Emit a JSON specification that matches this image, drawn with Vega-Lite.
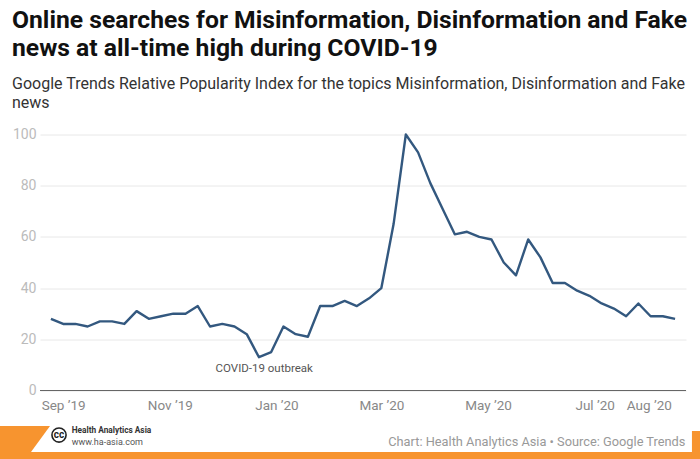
{
"$schema":"https://vega.github.io/schema/vega-lite/v6.json",
"width":646,"height":256,
"autosize":"none",
"padding":{"left":40,"top":134.5,"right":14,"bottom":68.5},
"background":"white",
"title":{"text":["Online searches for Misinformation, Disinformation and Fake","news at all-time high during COVID-19"],"subtitle":["Google Trends Relative Popularity Index for the topics Misinformation, Disinformation and Fake","news"],"anchor":"start","frame":"group","dx":-28,"offset":17,"font":"Roboto","fontSize":24.7,"fontWeight":"bold","color":"#111111","lineHeight":28,"subtitleFont":"Roboto","subtitleFontSize":16,"subtitleColor":"#333333","subtitleLineHeight":19,"subtitlePadding":15},
"config":{"view":{"stroke":null}},
"layer":[
{"data":{"name":"trend"},
"mark":{"type":"line","color":"#33587f","strokeWidth":2.4,"strokeJoin":"round","clip":false},
"encoding":{
"x":{"field":"week","type":"temporal","title":null,"scale":{"domain":["2019-08-18T18:00:00","2020-08-22T06:00:00"]},
"axis":{"values":["2019-09-01T00:00:00","2019-11-01T00:00:00","2020-01-01T00:00:00","2020-03-01T00:00:00","2020-05-01T00:00:00","2020-07-01T00:00:00","2020-08-01T00:00:00"],"labelExpr":"timeFormat(datum.value,'%b ’%y')","grid":false,"ticks":false,"domain":false,"labelFont":"Roboto","labelFontSize":13.5,"labelColor":"#888888","labelPadding":8}},
"y":{"field":"index","type":"quantitative","title":null,"scale":{"domain":[0,100]},
"axis":{"values":[0,20,40,60,80,100],"grid":true,"gridColor":"#e8e8e8","gridWidth":1,"ticks":false,"domain":false,"labelFont":"Roboto","labelFontSize":14,"labelColor":"#bbbbbb","labelPadding":4}}
}},
{"data":{"values":[{"v":0}]},"mark":{"type":"rule","color":"#666666","strokeWidth":1.2},"encoding":{"y":{"field":"v","type":"quantitative"}}},
{"data":{"values":[{"week":"2019-12-25T00:00:00","v":8.5,"label":"COVID-19 outbreak"}]},"mark":{"type":"text","font":"Roboto","fontSize":11.5,"color":"#555555","align":"center"},"encoding":{"x":{"field":"week","type":"temporal"},"y":{"field":"v","type":"quantitative"},"text":{"field":"label"}}},
{"data":{"values":[{"d":"2019-07-20T00:00:00","t":-13.87,"low":-24},{"d":"2019-08-13T14:30:00","t":-13.87,"low":-24},{"d":"2019-08-24T11:15:00","t":-13.87,"low":-13.87}]},
"mark":{"type":"area","color":"#f7942f","clip":false,"orient":"vertical"},
"encoding":{"x":{"field":"d","type":"temporal"},"y":{"field":"t","type":"quantitative"},"y2":{"field":"low"}}},
{"data":{"values":[{"a":"2019-07-20T00:00:00","b":"2020-09-10T00:00:00","t":-24,"u":-30},{"a":"2020-08-25T15:40:00","b":"2020-09-10T00:00:00","t":-15.8,"u":-30}]},
"mark":{"type":"rect","color":"#f7942f","clip":false},
"encoding":{"x":{"field":"a","type":"temporal"},"x2":{"field":"b"},"y":{"field":"t","type":"quantitative"},"y2":{"field":"u"}}},
{"data":{"values":[{"d":"2019-08-29T15:00:00","v":-17.4}]},"mark":{"type":"point","size":200,"stroke":"#222222","strokeWidth":1.6,"fill":"white","filled":false,"fillOpacity":1,"clip":false},"encoding":{"x":{"field":"d","type":"temporal"},"y":{"field":"v","type":"quantitative"}}},
{"data":{"values":[{"d":"2019-08-29T15:00:00","v":-17.4,"label":"cc"}]},"mark":{"type":"text","font":"Roboto","fontWeight":"bold","fontSize":10,"color":"#222222","align":"center","baseline":"middle","clip":false},"encoding":{"x":{"field":"d","type":"temporal"},"y":{"field":"v","type":"quantitative"},"text":{"field":"label"}}},
{"data":{"values":[{"d":"2019-09-05T21:50:00","v":-15.8,"label":"Health Analytics Asia"}]},"mark":{"type":"text","font":"Roboto","fontWeight":"bold","fontSize":8.3,"color":"#333333","align":"left","baseline":"middle","clip":false},"encoding":{"x":{"field":"d","type":"temporal"},"y":{"field":"v","type":"quantitative"},"text":{"field":"label"}}},
{"data":{"values":[{"d":"2019-09-05T21:50:00","v":-20,"label":"www.ha-asia.com"}]},"mark":{"type":"text","font":"Roboto","fontSize":9,"color":"#555555","align":"left","baseline":"middle","clip":false},"encoding":{"x":{"field":"d","type":"temporal"},"y":{"field":"v","type":"quantitative"},"text":{"field":"label"}}},
{"data":{"values":[{"d":"2020-08-21T22:00:00","v":-20,"label":"Chart: Health Analytics Asia • Source: Google Trends"}]},"mark":{"type":"text","font":"Roboto","fontSize":12.8,"color":"#999999","align":"right","baseline":"middle","clip":false},"encoding":{"x":{"field":"d","type":"temporal"},"y":{"field":"v","type":"quantitative"},"text":{"field":"label"}}}
],
"datasets":{"trend":[
{"week":"2019-08-25","index":28},{"week":"2019-09-01","index":26},{"week":"2019-09-08","index":26},{"week":"2019-09-15","index":25},{"week":"2019-09-22","index":27},{"week":"2019-09-29","index":27},{"week":"2019-10-06","index":26},{"week":"2019-10-13","index":31},{"week":"2019-10-20","index":28},{"week":"2019-10-27","index":29},{"week":"2019-11-03","index":30},{"week":"2019-11-10","index":30},{"week":"2019-11-17","index":33},{"week":"2019-11-24","index":25},{"week":"2019-12-01","index":26},{"week":"2019-12-08","index":25},{"week":"2019-12-15","index":22},{"week":"2019-12-22","index":13},{"week":"2019-12-29","index":15},{"week":"2020-01-05","index":25},{"week":"2020-01-12","index":22},{"week":"2020-01-19","index":21},{"week":"2020-01-26","index":33},{"week":"2020-02-02","index":33},{"week":"2020-02-09","index":35},{"week":"2020-02-16","index":33},{"week":"2020-02-23","index":36},{"week":"2020-03-01","index":40},{"week":"2020-03-08","index":65},{"week":"2020-03-15","index":100},{"week":"2020-03-22","index":93},{"week":"2020-03-29","index":81},{"week":"2020-04-05","index":71},{"week":"2020-04-12","index":61},{"week":"2020-04-19","index":62},{"week":"2020-04-26","index":60},{"week":"2020-05-03","index":59},{"week":"2020-05-10","index":50},{"week":"2020-05-17","index":45},{"week":"2020-05-24","index":59},{"week":"2020-05-31","index":52},{"week":"2020-06-07","index":42},{"week":"2020-06-14","index":42},{"week":"2020-06-21","index":39},{"week":"2020-06-28","index":37},{"week":"2020-07-05","index":34},{"week":"2020-07-12","index":32},{"week":"2020-07-19","index":29},{"week":"2020-07-26","index":34},{"week":"2020-08-02","index":29},{"week":"2020-08-09","index":29},{"week":"2020-08-16","index":28}
]}
}
